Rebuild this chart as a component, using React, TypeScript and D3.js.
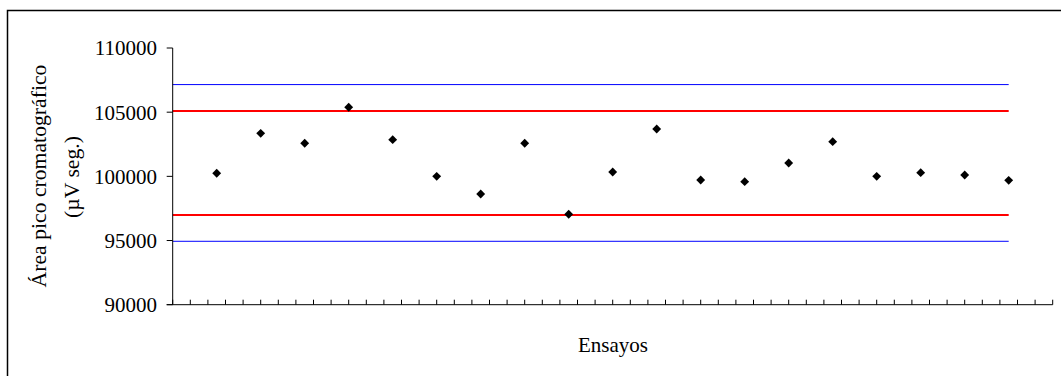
import React from "react";
import * as d3 from "d3";

const ensayos = [1, 2, 3, 4, 5, 6, 7, 8, 9, 10, 11, 12, 13, 14, 15, 16, 17, 18, 19];
const areas = [100240, 103350, 102575, 105380, 102860, 100000, 98625, 102575, 97045, 100340, 103690, 99715, 99585, 101040, 102700, 100000, 100285, 100105, 99690];
const limiteSuperior3s = 107150;
const limiteSuperior2s = 105090;
const limiteInferior2s = 96990;
const limiteInferior3s = 94940;
const yTicks = [90000, 95000, 100000, 105000, 110000];
const xMinorUnit = 0.4;
const xMax = 20;
const lineEnd = 19;

const W = 1061;
const H = 376;
const font = "'Liberation Serif', 'Times New Roman', serif";

export default function App() {
  const x = d3.scaleLinear().domain([0, xMax]).range([172.7, 1052.7]);
  const y = d3.scaleLinear().domain([90000, 110000]).range([304.7, 48]);
  const xTicks = d3.range(0, Math.round(xMax / xMinorUnit) + 1).map((i) => i * xMinorUnit);
  const diamond = d3.symbol().type(d3.symbolDiamond2).size(50)();

  const hLines = [
    { v: limiteSuperior3s, c: "#0000ff", w: 1 },
    { v: limiteSuperior2s, c: "#ff0000", w: 2 },
    { v: limiteInferior2s, c: "#ff0000", w: 2 },
    { v: limiteInferior3s, c: "#0000ff", w: 1 },
  ];

  return (
    <svg width={W} height={H} style={{ position: "absolute", left: 0, top: 0 }} fontFamily={font}>
      <rect x={0} y={0} width={W} height={H} fill="#fff" />
      <rect x={7.5} y={10.5} width={1100} height={400} fill="none" stroke="#000" strokeWidth={1.5} />

      {hLines.map((l, i) => (
        <line key={i} x1={x(0)} x2={x(lineEnd)} y1={y(l.v)} y2={y(l.v)} stroke={l.c} strokeWidth={l.w} />
      ))}

      {/* y axis */}
      <line x1={x(0)} x2={x(0)} y1={y(110000)} y2={y(90000)} stroke="#000" strokeWidth={1} />
      {yTicks.map((t) => (
        <g key={t}>
          <line x1={x(0) - 6} x2={x(0)} y1={y(t)} y2={y(t)} stroke="#000" strokeWidth={1} />
          <text x={157} y={y(t)} dy="0.35em" textAnchor="end" fontSize={21} fill="#000">
            {t}
          </text>
        </g>
      ))}

      {/* x axis */}
      <line x1={x(0) - 6} x2={x(xMax)} y1={y(90000)} y2={y(90000)} stroke="#000" strokeWidth={1} />
      {xTicks.map((t, i) => (
        <line key={i} x1={x(t)} x2={x(t)} y1={y(90000)} y2={y(90000) - 5} stroke="#000" strokeWidth={1} />
      ))}

      {areas.map((v, i) => (
        <path key={i} d={diamond} transform={`translate(${x(ensayos[i])},${y(v)})`} fill="#000" />
      ))}

      <text transform={`translate(46,176) rotate(-90)`} textAnchor="middle" fontSize={21.7} fill="#000">
        Área pico cromatográfico
      </text>
      <text transform={`translate(79,177) rotate(-90)`} textAnchor="middle" fontSize={21.7} fill="#000">
        (µV seg.)
      </text>

      <text x={613} y={352} textAnchor="middle" fontSize={21} fill="#000">
        Ensayos
      </text>
    </svg>
  );
}
